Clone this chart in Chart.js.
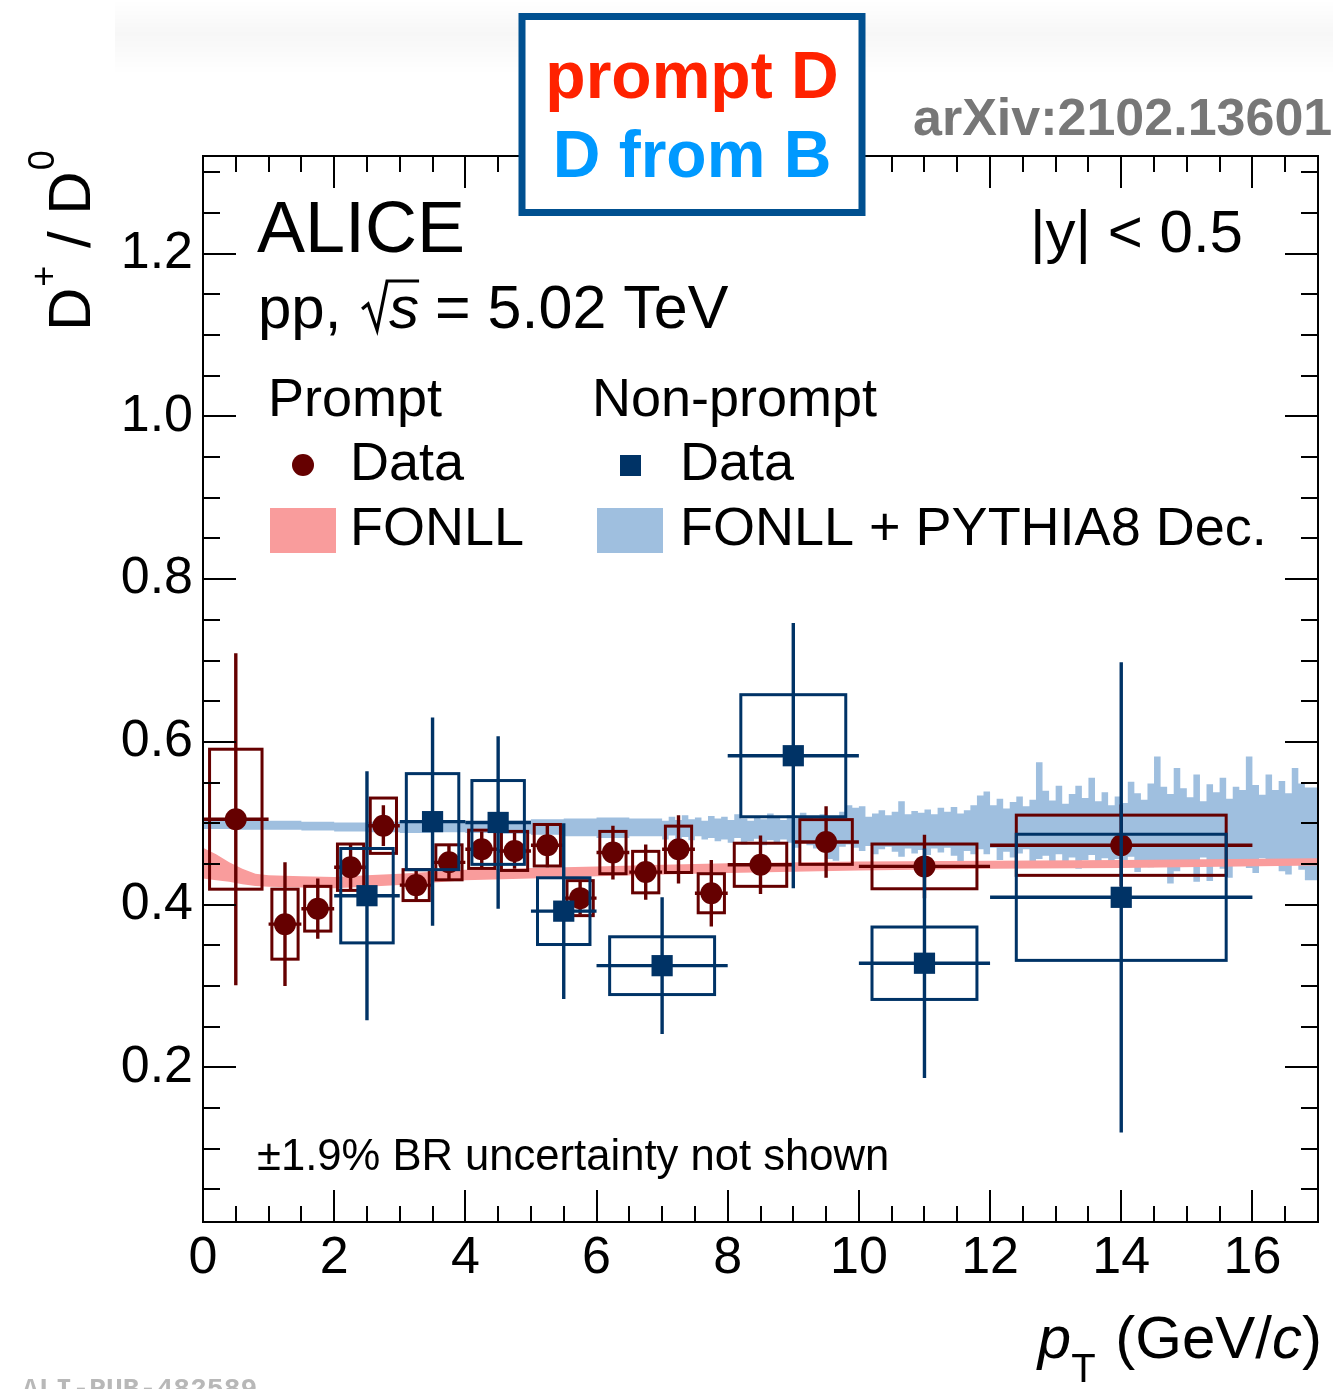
<!DOCTYPE html>
<html><head><meta charset="utf-8">
<script src="https://cdn.jsdelivr.net/npm/chart.js@4.4.1/dist/chart.umd.min.js"></script>
<style>html,body{margin:0;padding:0;background:#fff;}#wrap{width:1333px;height:1389px;position:relative;}</style>
</head><body><div id="wrap"><canvas id="c" width="1333" height="1389"></canvas></div>
<script>
// ---------------- DATA ----------------
// Prompt D+/D0 ratio
const promptX    = [0.5, 1.25, 1.75, 2.25, 2.75, 3.25, 3.75, 4.25, 4.75, 5.25, 5.75, 6.25, 6.75, 7.25, 7.75, 8.5, 9.5, 11, 14];
const promptLo   = [0, 1, 1.5, 2, 2.5, 3, 3.5, 4, 4.5, 5, 5.5, 6, 6.5, 7, 7.5, 8, 9, 10, 12];
const promptHi   = [1, 1.5, 2, 2.5, 3, 3.5, 4, 4.5, 5, 5.5, 6, 6.5, 7, 7.5, 8, 9, 10, 12, 16];
const promptY    = [0.505, 0.376, 0.395, 0.446, 0.497, 0.424, 0.452, 0.468, 0.466, 0.473, 0.408, 0.464, 0.440, 0.468, 0.414, 0.449, 0.477, 0.447, 0.473];
const promptStat = [0.204, 0.076, 0.037, 0.029, 0.025, 0.018, 0.021, 0.022, 0.022, 0.027, 0.020, 0.033, 0.034, 0.042, 0.041, 0.036, 0.044, 0.039, 0.050];
const promptSyst = [0.086, 0.043, 0.0275, 0.0285, 0.034, 0.019, 0.0215, 0.0235, 0.024, 0.0255, 0.0215, 0.026, 0.0255, 0.0285, 0.024, 0.0265, 0.0275, 0.0275, 0.037];

// Non-prompt D+/D0 ratio
const npX    = [2.5, 3.5, 4.5, 5.5, 7, 9, 11, 14];
const npLo   = [2, 3, 4, 5, 6, 8, 10, 12];
const npHi   = [3, 4, 5, 6, 8, 10, 12, 16];
const npY    = [0.411, 0.502, 0.501, 0.392, 0.325, 0.583, 0.328, 0.409];
const npStat = [0.153, 0.128, 0.106, 0.108, 0.084, 0.163, 0.141, 0.289];
const npSyst = [0.058, 0.059, 0.0515, 0.041, 0.0355, 0.075, 0.0445, 0.0775];

// FONLL prompt band
const pinkX  = [0, 0.2, 0.4, 0.6, 0.8, 1.0, 1.5, 2.0, 2.5, 3, 4, 5, 6, 7, 8, 10, 12, 14, 17];
const pinkHi = [0.470, 0.462, 0.452, 0.444, 0.438, 0.436, 0.435, 0.434, 0.436, 0.438, 0.443, 0.445, 0.447, 0.449, 0.451, 0.453, 0.454, 0.455, 0.457];
const pinkLo = [0.432, 0.430, 0.428, 0.425, 0.423, 0.422, 0.421, 0.420, 0.422, 0.424, 0.430, 0.432, 0.435, 0.437, 0.439, 0.442, 0.444, 0.445, 0.448];

// FONLL + PYTHIA8 decays band (histogram bins)
const blueEdges = [0, 0.1, 0.5, 1, 1.5, 2, 2.5, 3, 3.5, 4, 4.5, 5, 5.5, 6, 6.5,
  7, 7.1, 7.2, 7.3, 7.4, 7.5, 7.6, 7.7, 7.8, 7.9,
  8, 8.1, 8.2, 8.3, 8.4, 8.5, 8.6, 8.7, 8.8, 8.9,
  9, 9.1, 9.2, 9.3, 9.4, 9.5, 9.6, 9.7, 9.8, 9.9,
  10, 10.1, 10.2, 10.3, 10.4, 10.5, 10.6, 10.7, 10.8, 10.9,
  11, 11.1, 11.2, 11.3, 11.4, 11.5, 11.6, 11.7, 11.8, 11.9,
  12, 12.1, 12.2, 12.3, 12.4, 12.5, 12.6, 12.7, 12.8, 12.9,
  13, 13.1, 13.2, 13.3, 13.4, 13.5, 13.6, 13.7, 13.8, 13.9,
  14, 14.1, 14.2, 14.3, 14.4, 14.5, 14.6, 14.7, 14.8, 14.9,
  15, 15.1, 15.2, 15.3, 15.4, 15.5, 15.6, 15.7, 15.8, 15.9,
  16, 16.1, 16.2, 16.3, 16.4, 16.5, 16.6, 16.7, 16.8, 16.9, 17];
const blueHi = [0.518, 0.505, 0.503, 0.503, 0.503, 0.502, 0.501, 0.502, 0.501, 0.502, 0.501, 0.503, 0.505, 0.506, 0.507,
  0.506, 0.503, 0.508, 0.504, 0.510, 0.505, 0.507, 0.503, 0.509, 0.506,
  0.508, 0.504, 0.511, 0.506, 0.503, 0.509, 0.505, 0.512, 0.507, 0.504,
  0.510, 0.506, 0.513, 0.508, 0.505, 0.511, 0.507, 0.509, 0.514, 0.522,
  0.519, 0.521, 0.508, 0.512, 0.516, 0.510, 0.514, 0.527, 0.511, 0.515,
  0.513, 0.517, 0.511, 0.519, 0.514, 0.520, 0.512, 0.516, 0.522, 0.534,
  0.539, 0.522, 0.530, 0.518, 0.526, 0.533, 0.521, 0.529, 0.575, 0.540,
  0.528, 0.546, 0.524, 0.536, 0.546, 0.531, 0.556, 0.527, 0.538, 0.522,
  0.533, 0.525, 0.551, 0.537, 0.529, 0.549, 0.582, 0.545, 0.536, 0.568,
  0.543, 0.532, 0.560, 0.527, 0.548, 0.538, 0.556, 0.530, 0.545, 0.541,
  0.582, 0.547, 0.535, 0.560, 0.541, 0.552, 0.537, 0.568, 0.549, 0.544];
const blueLo = [0.490, 0.493, 0.493, 0.492, 0.492, 0.491, 0.490, 0.489, 0.488, 0.489, 0.488, 0.487, 0.486, 0.484, 0.482,
  0.484, 0.480, 0.485, 0.481, 0.483, 0.479, 0.484, 0.480, 0.482, 0.478,
  0.480, 0.476, 0.482, 0.474, 0.478, 0.481, 0.473, 0.479, 0.476, 0.480,
  0.476, 0.470, 0.478, 0.473, 0.469, 0.475, 0.456, 0.454, 0.471, 0.474,
  0.470, 0.466, 0.472, 0.462, 0.468, 0.471, 0.465, 0.459, 0.469, 0.463,
  0.467, 0.461, 0.469, 0.464, 0.470, 0.460, 0.453, 0.466, 0.462, 0.468,
  0.462, 0.470, 0.455, 0.465, 0.458, 0.463, 0.468, 0.447, 0.456, 0.460,
  0.452, 0.462, 0.449, 0.458, 0.444, 0.455, 0.461, 0.446, 0.457, 0.451,
  0.456, 0.448, 0.459, 0.440, 0.452, 0.446, 0.455, 0.449, 0.426, 0.441,
  0.453, 0.447, 0.428, 0.458, 0.429, 0.450, 0.444, 0.433, 0.448, 0.452,
  0.445, 0.439, 0.457, 0.448, 0.452, 0.441, 0.437, 0.450, 0.443, 0.430];

const xTickLabels = [0, 2, 4, 6, 8, 10, 12, 14, 16];
const yTickLabels = [0.2, 0.4, 0.6, 0.8, 1.0, 1.2];

// ---------------- STYLE ----------------
const FONT = "'Liberation Sans', Arial, Helvetica, sans-serif";
const RED = '#650000', BLUE = '#003366', PINK = '#f99c9c', LBLUE = '#9fbfdf';

function setFont(ctx, size, weight, style, fam) {
  ctx.font = (style || 'normal') + ' ' + (weight || 'normal') + ' ' + size + 'px ' + (fam || FONT);
}

function stepData(edges, vals) {
  const d = vals.map((v, i) => ({x: edges[i], y: v}));
  d.push({x: edges[edges.length - 1], y: vals[vals.length - 1]});
  return d;
}

function drawSet(chart, X, Lo, Hi, Y, Stat, Syst, color) {
  const {ctx, chartArea: a, scales: {x, y}} = chart;
  ctx.save();
  ctx.beginPath(); ctx.rect(a.left, a.top, a.right - a.left, a.bottom - a.top); ctx.clip();
  ctx.strokeStyle = color; ctx.lineCap = 'butt';
  for (let i = 0; i < X.length; i++) {
    const w = Hi[i] - Lo[i];
    const bx0 = x.getPixelForValue(X[i] - 0.4 * w), bx1 = x.getPixelForValue(X[i] + 0.4 * w);
    const by0 = y.getPixelForValue(Y[i] + Syst[i]), by1 = y.getPixelForValue(Y[i] - Syst[i]);
    ctx.lineWidth = 3;
    ctx.strokeRect(bx0, by0, bx1 - bx0, by1 - by0);
    const px = x.getPixelForValue(X[i]), py = y.getPixelForValue(Y[i]);
    ctx.lineWidth = 3.4;
    ctx.beginPath();
    ctx.moveTo(x.getPixelForValue(Lo[i]), py); ctx.lineTo(x.getPixelForValue(Hi[i]), py);
    ctx.moveTo(px, y.getPixelForValue(Y[i] + Stat[i])); ctx.lineTo(px, y.getPixelForValue(Y[i] - Stat[i]));
    ctx.stroke();
  }
  ctx.restore();
}

function drawFrame(chart) {
  const {ctx, chartArea: a, scales: {x, y}} = chart;
  ctx.save();
  ctx.strokeStyle = '#000'; ctx.lineWidth = 2;
  ctx.beginPath();
  for (let k = 1; k < 34; k++) {
    const v = k * 0.5, px = Math.round(x.getPixelForValue(v));
    const L = (k % 4 === 0) ? 32 : 16;
    ctx.moveTo(px, a.bottom); ctx.lineTo(px, a.bottom - L);
    ctx.moveTo(px, a.top); ctx.lineTo(px, a.top + L);
  }
  for (let k = 1; k <= 26; k++) {
    const v = k * 0.05, py = Math.round(y.getPixelForValue(v));
    const L = (k % 4 === 0) ? 33 : 17;
    ctx.moveTo(a.left, py); ctx.lineTo(a.left + L, py);
    ctx.moveTo(a.right, py); ctx.lineTo(a.right - L, py);
  }
  ctx.stroke();
  ctx.strokeRect(a.left, a.top, a.right - a.left, a.bottom - a.top);
  ctx.restore();
}

function drawAnnotations(chart) {
  const ctx = chart.ctx;
  ctx.save();
  ctx.textBaseline = 'alphabetic'; ctx.textAlign = 'left'; ctx.fillStyle = '#000';

  // y title D+/D0
  ctx.save();
  ctx.translate(90, 331); ctx.rotate(-Math.PI / 2);
  let cx = 0;
  setFont(ctx, 60); ctx.fillText('D', cx, 0); cx += ctx.measureText('D').width;
  setFont(ctx, 36); ctx.fillText('+', cx + 1, -34); cx += ctx.measureText('+').width + 2;
  setFont(ctx, 60); ctx.fillText(' / D', cx, 0); cx += ctx.measureText(' / D').width;
  setFont(ctx, 36); ctx.fillText('0', cx + 1, -36);
  ctx.restore();

  // x title p_T (GeV/c)
  const parts = [['p', 60, 'italic', 0], ['T', 40, 'normal', 24], [' (GeV/', 60, 'normal', 0], ['c', 60, 'italic', 0], [')', 60, 'normal', 0]];
  let tot = 0;
  parts.forEach(p => { setFont(ctx, p[1], 'normal', p[2]); tot += ctx.measureText(p[0]).width + (p[0] === 'T' ? 3 : 0); });
  let xx = 1322 - tot;
  parts.forEach(p => { setFont(ctx, p[1], 'normal', p[2]); ctx.fillText(p[0], xx, 1358 + p[3]); xx += ctx.measureText(p[0]).width + (p[0] === 'T' ? 3 : 0); });

  // ALICE etc.
  setFont(ctx, 72); ctx.fillText('ALICE', 257, 252);
  setFont(ctx, 60); ctx.fillText('pp, ', 258, 328);
  const rx = 258 + ctx.measureText('pp, ').width + 4;
  ctx.save(); ctx.lineWidth = 3.2; ctx.strokeStyle = '#000'; ctx.lineJoin = 'miter';
  ctx.beginPath(); ctx.moveTo(rx, 309); ctx.lineTo(rx + 6, 304); ctx.lineTo(rx + 15, 330); ctx.lineTo(rx + 25, 281); ctx.lineTo(rx + 57, 281); ctx.stroke();
  ctx.restore();
  setFont(ctx, 60, 'normal', 'italic'); ctx.fillText('s', rx + 27, 328);
  setFont(ctx, 61); ctx.fillText(' = 5.02 TeV', rx + 56, 328);
  setFont(ctx, 60); ctx.fillText('|y| < 0.5', 1030, 252);

  // legend
  setFont(ctx, 54);
  ctx.fillText('Prompt', 268, 416);
  ctx.fillText('Non-prompt', 592, 416);
  ctx.fillText('Data', 350, 480);
  ctx.fillText('Data', 680, 480);
  ctx.fillText('FONLL', 350, 545);
  ctx.fillText('FONLL + PYTHIA8 Dec.', 680, 545);
  ctx.fillStyle = RED; ctx.beginPath(); ctx.arc(303, 465, 11, 0, Math.PI * 2); ctx.fill();
  ctx.fillStyle = BLUE; ctx.fillRect(620, 455, 21, 21);
  ctx.fillStyle = PINK; ctx.fillRect(270, 508, 66, 45);
  ctx.fillStyle = LBLUE; ctx.fillRect(597, 508, 66, 45);

  ctx.fillStyle = '#000';
  setFont(ctx, 43.6); ctx.fillText('\u00B11.9% BR uncertainty not shown', 257, 1170);

  // top faint band
  const g = ctx.createLinearGradient(0, 0, 0, 75);
  g.addColorStop(0, 'rgba(0,0,0,0)'); g.addColorStop(0.45, 'rgba(0,0,0,0.03)'); g.addColorStop(1, 'rgba(0,0,0,0)');
  ctx.fillStyle = g; ctx.fillRect(115, 0, 1218, 75);

  // prompt D / D from B box
  ctx.fillStyle = '#fff'; ctx.fillRect(522, 16, 340, 197);
  ctx.strokeStyle = '#005090'; ctx.lineWidth = 7; ctx.strokeRect(522, 16.5, 340, 196);
  ctx.textAlign = 'center';
  setFont(ctx, 66, 'bold'); ctx.fillStyle = '#ff2200'; ctx.fillText('prompt D', 692, 98);
  ctx.fillStyle = '#0099ff'; ctx.fillText('D from B', 692, 177);
  ctx.textAlign = 'left';
  setFont(ctx, 52, 'bold'); ctx.fillStyle = '#777777'; ctx.fillText('arXiv:2102.13601', 913, 135);
  setFont(ctx, 28, 'bold', 'normal', "'Liberation Mono', 'DejaVu Sans Mono', monospace"); ctx.fillStyle = '#b8b8b8';
  ctx.fillText('ALI-PUB-482589', 22, 1397);
  ctx.restore();
}

const customPlugin = {
  id: 'custom',
  beforeDatasetDraw(chart, args) {
    if (args.index === 0) drawSet(chart, promptX, promptLo, promptHi, promptY, promptStat, promptSyst, RED);
    if (args.index === 1) drawSet(chart, npX, npLo, npHi, npY, npStat, npSyst, BLUE);
  },
  afterDraw(chart) { drawFrame(chart); drawAnnotations(chart); }
};

const chart = new Chart(document.getElementById('c').getContext('2d'), {
  type: 'scatter',
  data: {
    datasets: [
      {label: 'Prompt Data', data: promptX.map((v, i) => ({x: v, y: promptY[i]})), pointStyle: 'circle', pointRadius: 11,
       pointBackgroundColor: RED, pointBorderWidth: 0, order: 1},
      {label: 'Non-prompt Data', data: npX.map((v, i) => ({x: v, y: npY[i]})), pointStyle: 'rect', pointRadius: 15,
       pointBackgroundColor: BLUE, pointBorderWidth: 0, order: 0},
      {type: 'line', label: 'FONLL hi', data: pinkX.map((v, i) => ({x: v, y: pinkHi[i]})), borderColor: 'rgba(0,0,0,0)', borderWidth: 0,
       pointRadius: 0, fill: '+1', backgroundColor: PINK, tension: 0, order: 2},
      {type: 'line', label: 'FONLL lo', data: pinkX.map((v, i) => ({x: v, y: pinkLo[i]})), borderColor: 'rgba(0,0,0,0)', borderWidth: 0,
       pointRadius: 0, fill: false, tension: 0, order: 2},
      {type: 'line', label: 'FONLL+PYTHIA8 hi', data: stepData(blueEdges, blueHi), stepped: 'after', borderColor: 'rgba(0,0,0,0)', borderWidth: 0,
       pointRadius: 0, fill: '+1', backgroundColor: LBLUE, order: 3},
      {type: 'line', label: 'FONLL+PYTHIA8 lo', data: stepData(blueEdges, blueLo), stepped: 'after', borderColor: 'rgba(0,0,0,0)', borderWidth: 0,
       pointRadius: 0, fill: false, order: 3}
    ]
  },
  options: {
    responsive: false, animation: false, devicePixelRatio: 1, events: [],
    layout: {padding: {top: 156, right: 11, left: 0, bottom: 0}},
    plugins: {legend: {display: false}, tooltip: {enabled: false}},
    scales: {
      x: {type: 'linear', min: 0, max: 17,
          grid: {display: false, drawTicks: false}, border: {display: false},
          ticks: {stepSize: 2, includeBounds: false, autoSkip: false, maxRotation: 0, padding: 5, color: '#000',
                  font: {family: FONT, size: 52},
                  callback: v => xTickLabels.includes(Math.round(v)) ? String(Math.round(v)) : ''},
          afterFit: s => { s.height = 167; s.paddingLeft = 0; s.paddingRight = 0; }},
      y: {type: 'linear', min: 0.01, max: 1.32,
          grid: {display: false, drawTicks: false}, border: {display: false},
          ticks: {stepSize: 0.2, includeBounds: false, padding: 10, color: '#000',
                  font: {family: FONT, size: 52},
                  callback: v => yTickLabels.some(t => Math.abs(t - v) < 1e-6) ? v.toFixed(1) : ''},
          afterFit: s => { s.width = 203; s.paddingTop = 0; s.paddingBottom = 0; }}
    }
  },
  plugins: [customPlugin]
});
</script></body></html>
